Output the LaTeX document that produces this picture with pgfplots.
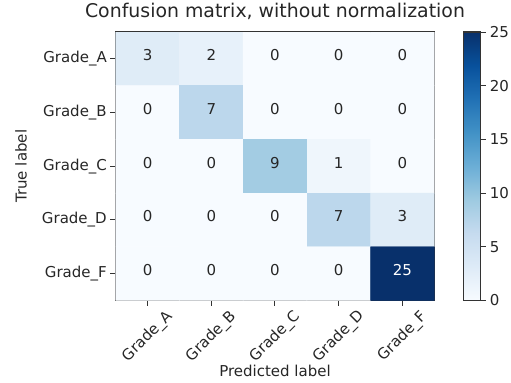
\documentclass[border=0pt]{standalone}
\usepackage{pgfplots}
\usepackage{pgfplotstable}
\pgfplotsset{compat=1.18}
\usepackage{fontspec}
\setmainfont{DejaVu Sans}
\pgfplotsset{/pgf/number format/assume math mode=true}
\pgfplotstableread{
x y c
0 0 3
1 0 2
2 0 0
3 0 0
4 0 0
0 1 0
1 1 7
2 1 0
3 1 0
4 1 0
0 2 0
1 2 0
2 2 9
3 2 1
4 2 0
0 3 0
1 3 0
2 3 0
3 3 7
4 3 3
0 4 0
1 4 0
2 4 0
3 4 0
4 4 25
}\cm
\pgfplotstableread{
x y lab
0 0 3
1 0 2
2 0 0
3 0 0
4 0 0
0 1 0
1 1 7
2 1 0
3 1 0
4 1 0
0 2 0
1 2 0
2 2 9
3 2 1
4 2 0
0 3 0
1 3 0
2 3 0
3 3 7
4 3 3
0 4 0
1 4 0
2 4 0
3 4 0
}\labdark
\pgfplotstableread{
x y lab
4 4 25
}\lablight
\begin{document}
\begin{tikzpicture}[font=\fontsize{15}{18}\selectfont]
\begin{axis}[
  name=main,
  scale only axis, width=318.6pt, height=268.4pt,
  xmin=-0.5, xmax=4.5, ymin=-0.5, ymax=4.5, y dir=reverse,
  xtick={0,1,2,3,4}, ytick={0,1,2,3,4},
  xticklabels={Grade\_A,Grade\_B,Grade\_C,Grade\_D,Grade\_F},
  yticklabels={Grade\_A,Grade\_B,Grade\_C,Grade\_D,Grade\_F},
  tick pos=left, tick align=outside,
  major tick length=5.4pt,
  tick style={black!80, line width=1pt},
  axis line style={black!80, line width=1.2pt},
  tick label style={text=black!85},
  xticklabel style={yshift=-31pt, rotate=45, anchor=center, inner sep=0pt},
  yticklabel style={anchor=east},
  title={Confusion matrix, without normalization},
  title style={at={(axis description cs:0.5,1.031)}, anchor=base, font=\fontsize{18.9}{22}\selectfont, text=black!85},
  xlabel={Predicted label},
  xlabel style={at={(axis description cs:0.5,-0.2832)}, anchor=base, text=black!85},
  ylabel={True label},
  ylabel style={at={(axis description cs:-0.2793,0.5)}, anchor=base, rotate=0, text=black!85},
  colormap={blues}{rgb255=(247,251,255) rgb255=(222,235,247) rgb255=(198,219,239) rgb255=(158,202,225) rgb255=(107,174,214) rgb255=(66,146,198) rgb255=(33,113,181) rgb255=(8,81,156) rgb255=(8,48,107)},
  point meta min=0, point meta max=25,
  colorbar,
  colorbar/width=16.5pt,
  colorbar shift/.style={xshift=0pt},
  colorbar style={
    at={(parent axis.north east)}, anchor=north west, xshift=29.5pt,
    scale only axis, width=16.5pt, height=268.4pt,
    ytick={0,5,10,15,20,25},
    yticklabel pos=right, ytick pos=right,
    tick align=outside, major tick length=5.4pt,
    tick style={black!80, line width=1pt},
    axis line style={black!80, line width=1.2pt},
    yticklabel style={anchor=west, inner sep=0pt, xshift=4pt, text=black!85},
  },
]
\addplot[matrix plot*, mesh/cols=5, point meta=explicit, shader=flat corner] table[x=x, y=y, meta=c] {\cm};
\addplot[only marks, mark=none,
  point meta=explicit symbolic, nodes near coords, nodes near coords align=center,
  every node near coord/.append style={text=black!85, yshift=3.5pt}] table[x=x, y=y, meta=lab] {\labdark};
\addplot[only marks, mark=none,
  point meta=explicit symbolic, nodes near coords, nodes near coords align=center,
  every node near coord/.append style={text=white, yshift=3.5pt}] table[x=x, y=y, meta=lab] {\lablight};
\end{axis}
\path (main.south west) ++(-115.7pt,-82.3pt) rectangle ++(511pt,379pt);
\end{tikzpicture}
\end{document}
